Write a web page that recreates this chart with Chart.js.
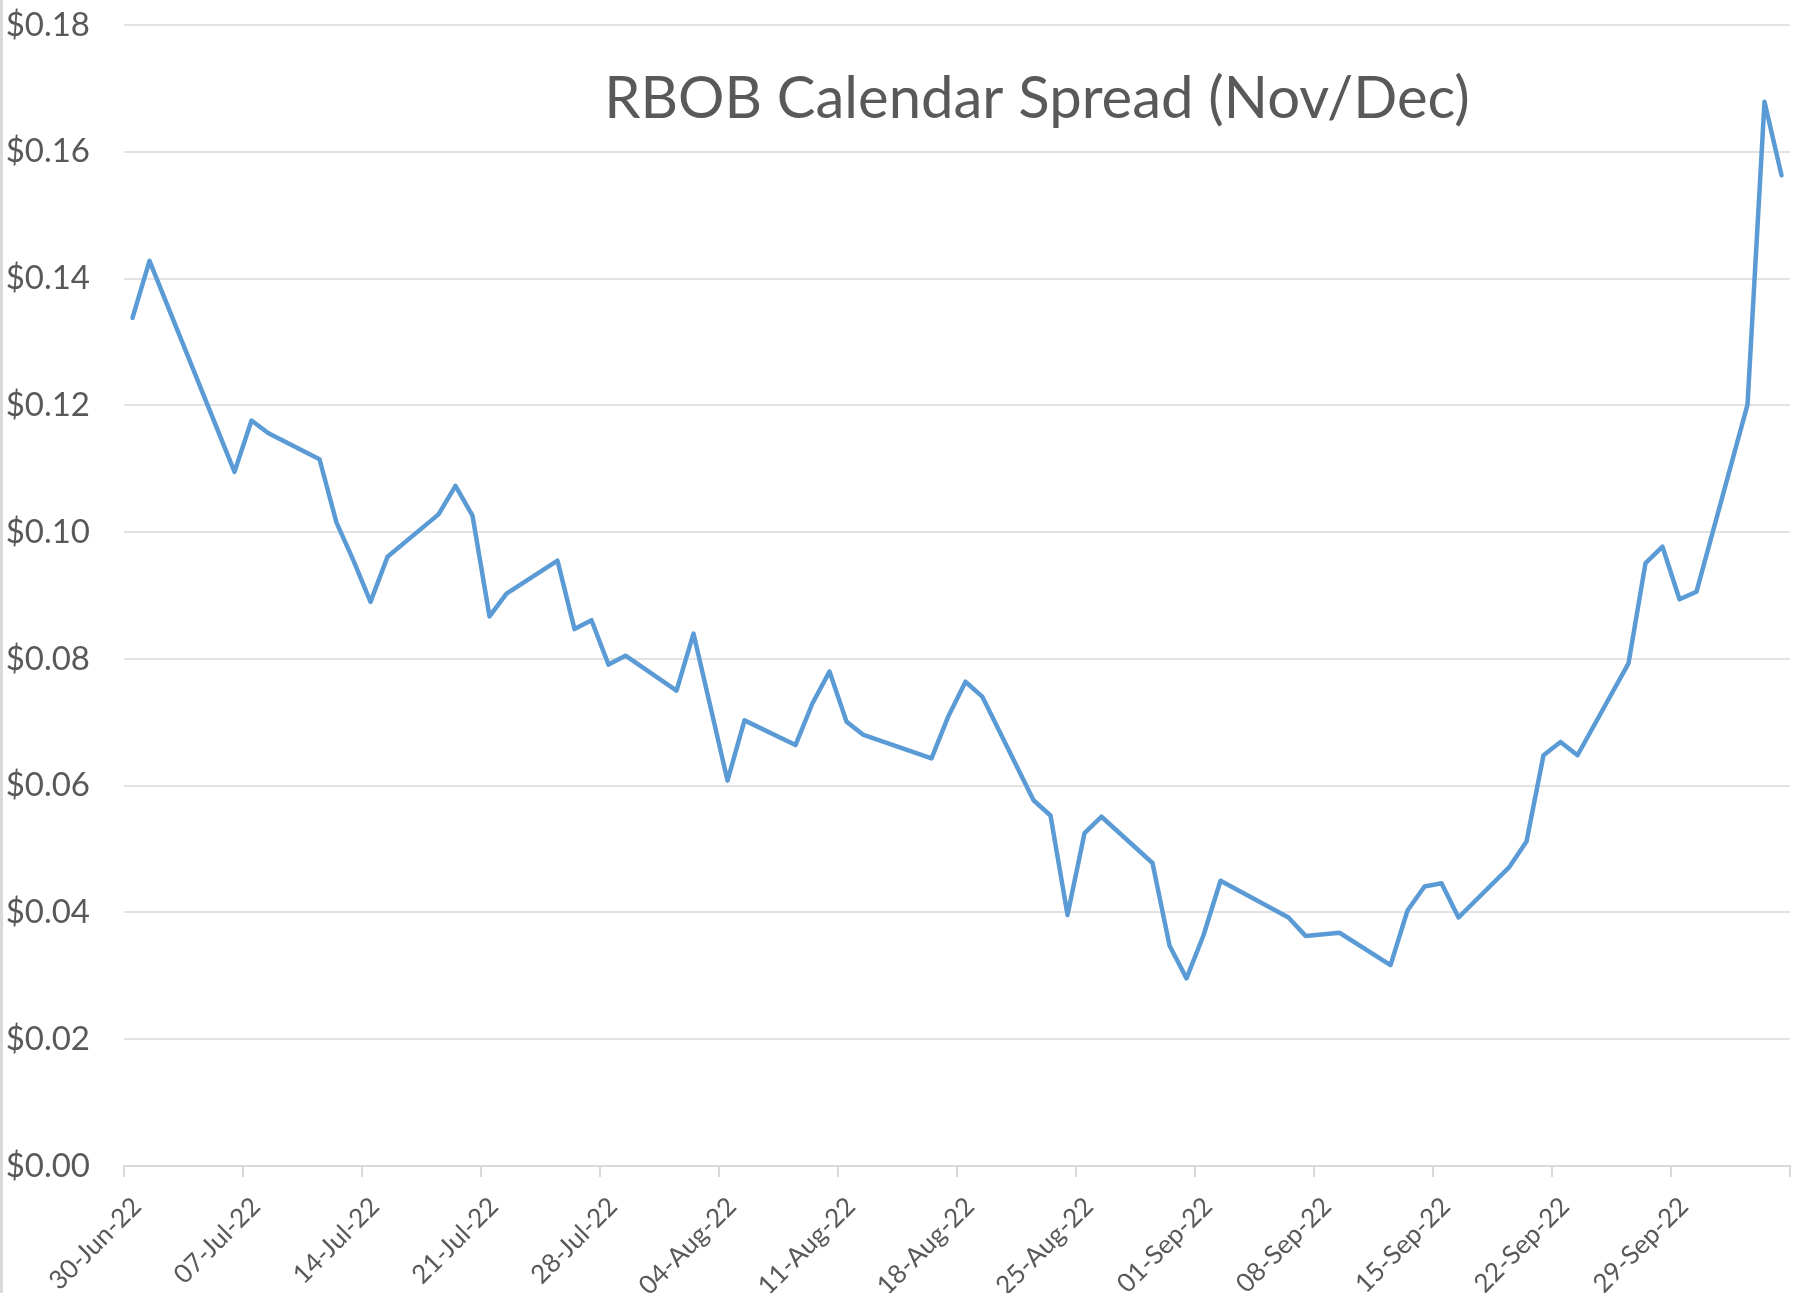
<!DOCTYPE html>
<html>
<head>
<meta charset="utf-8">
<title>RBOB Calendar Spread (Nov/Dec)</title>
<script src="https://cdn.jsdelivr.net/npm/chart.js@4.4.1/dist/chart.umd.min.js"></script>
<style>
    html, body { margin: 0; padding: 0; background: #fff; }
    #wrap { width: 1801px; height: 1293px; box-sizing: border-box; border-left: 3px solid #d9d9d9; }
    canvas { display: block; }
</style>
</head>
<body>
<div id="wrap"><canvas id="spreadChart" width="1798" height="1293"></canvas></div>
<script>
// Nov/Dec RBOB spread, $/gal (trading days only)
const dates = [
    '2022-06-30', '2022-07-01', '2022-07-06', '2022-07-07', '2022-07-08',
    '2022-07-11', '2022-07-12', '2022-07-13', '2022-07-14', '2022-07-15',
    '2022-07-18', '2022-07-19', '2022-07-20', '2022-07-21', '2022-07-22',
    '2022-07-25', '2022-07-26', '2022-07-27', '2022-07-28', '2022-07-29',
    '2022-08-01', '2022-08-02', '2022-08-04', '2022-08-05',
    '2022-08-08', '2022-08-09', '2022-08-10', '2022-08-11', '2022-08-12',
    '2022-08-16', '2022-08-17', '2022-08-18', '2022-08-19',
    '2022-08-22', '2022-08-23', '2022-08-24', '2022-08-25', '2022-08-26',
    '2022-08-29', '2022-08-30', '2022-08-31', '2022-09-01', '2022-09-02',
    '2022-09-06', '2022-09-07', '2022-09-09',
    '2022-09-12', '2022-09-13', '2022-09-14', '2022-09-15', '2022-09-16',
    '2022-09-19', '2022-09-20', '2022-09-21', '2022-09-22', '2022-09-23',
    '2022-09-26', '2022-09-27', '2022-09-28', '2022-09-29', '2022-09-30',
    '2022-10-03', '2022-10-04', '2022-10-05'
];
const spread = [
    0.1338, 0.1428, 0.1095, 0.1176, 0.1156,
    0.1115, 0.1015, 0.0955, 0.0890, 0.0961,
    0.1028, 0.1073, 0.1026, 0.0867, 0.0903,
    0.0955, 0.0847, 0.0861, 0.0791, 0.0805,
    0.0750, 0.0840, 0.0608, 0.0703,
    0.0664, 0.0730, 0.0780, 0.0701, 0.0680,
    0.0643, 0.0710, 0.0764, 0.0740,
    0.0577, 0.0553, 0.0396, 0.0525, 0.0551,
    0.0478, 0.0348, 0.0296, 0.0364, 0.0450,
    0.0392, 0.0363, 0.0368,
    0.0317, 0.0403, 0.0441, 0.0446, 0.0392,
    0.0472, 0.0512, 0.0648, 0.0669, 0.0648,
    0.0793, 0.0951, 0.0977, 0.0894, 0.0906,
    0.1201, 0.1679, 0.1563
];

// date axis: weekly ticks from 30-Jun, axis runs 98 days
const axisStart = '2022-06-30';
const axisDays = 98;
const tickDays = 7;
const yTicks = { min: 0, max: 0.18, step: 0.02 };
const monthNames = ['Jan', 'Feb', 'Mar', 'Apr', 'May', 'Jun', 'Jul', 'Aug', 'Sep', 'Oct', 'Nov', 'Dec'];
const chartTitle = 'RBOB Calendar Spread (Nov/Dec)';

const DAY_MS = 86400000;
const startMs = Date.parse(axisStart);

function dayOffset(dateStr) {
    return (Date.parse(dateStr) - startMs) / DAY_MS;
}

function dateLabel(offset) {
    const d = new Date(startMs + offset * DAY_MS);
    const dd = String(d.getUTCDate()).padStart(2, '0');
    return `${dd}-${monthNames[d.getUTCMonth()]}-${String(d.getUTCFullYear()).slice(2)}`;
}

// Excel date axis puts each day's point in the middle of its day slot
const points = dates.map((d, i) => ({ x: dayOffset(d) + 0.5, y: spread[i] }));

const textColor = '#595959';

// title sits inside the plot area, like the Excel overlay title
const overlayTitle = {
    id: 'overlayTitle',
    afterDraw(chart) {
        const { ctx, chartArea } = chart;
        ctx.save();
        ctx.font = '58px Lato';
        ctx.fillStyle = textColor;
        ctx.textAlign = 'center';
        ctx.textBaseline = 'alphabetic';
        ctx.fillText(chartTitle, chartArea.left + chartArea.width * 0.548, chartArea.top + 93);
        ctx.restore();
    }
};

new Chart(document.getElementById('spreadChart'), {
    type: 'line',
    data: {
        datasets: [{
            label: chartTitle,
            data: points,
            borderColor: '#5b9bd5',
            borderWidth: 4.5,
            borderJoinStyle: 'round',
            borderCapStyle: 'round',
            pointRadius: 0,
            tension: 0,
            fill: false
        }]
    },
    options: {
        responsive: false,
        animation: false,
        devicePixelRatio: 1,
        layout: { padding: { left: 2, right: 11, top: 25, bottom: 0 } },
        plugins: {
            legend: { display: false },
            tooltip: { enabled: false }
        },
        scales: {
            x: {
                type: 'linear',
                min: 0,
                max: axisDays,
                ticks: {
                    stepSize: tickDays,
                    autoSkip: false,
                    minRotation: 45,
                    maxRotation: 45,
                    padding: 14,
                    labelOffset: 13,
                    color: textColor,
                    font: { family: 'Lato', size: 26 },
                    callback: v => (v === axisDays ? '' : dateLabel(v))
                },
                grid: {
                    drawOnChartArea: false,
                    drawTicks: true,
                    tickLength: 11,
                    color: '#d9d9d9',
                    lineWidth: 2
                },
                border: { display: true, color: '#d9d9d9', width: 2 },
                afterFit: scale => {
                    scale.height = 127;
                    scale.paddingRight = 0;
                }
            },
            y: {
                min: yTicks.min,
                max: yTicks.max,
                ticks: {
                    stepSize: yTicks.step,
                    padding: 34,
                    color: textColor,
                    font: { family: 'Lato', size: 33 },
                    callback: v => '$' + v.toFixed(2)
                },
                grid: { drawTicks: false, color: '#e3e3e3', lineWidth: 2 },
                border: { display: false },
                afterFit: scale => {
                    scale.width = 119;
                    scale.paddingTop = 0;
                    scale.paddingBottom = 0;
                }
            }
        }
    },
    plugins: [overlayTitle]
});
</script>
</body>
</html>
